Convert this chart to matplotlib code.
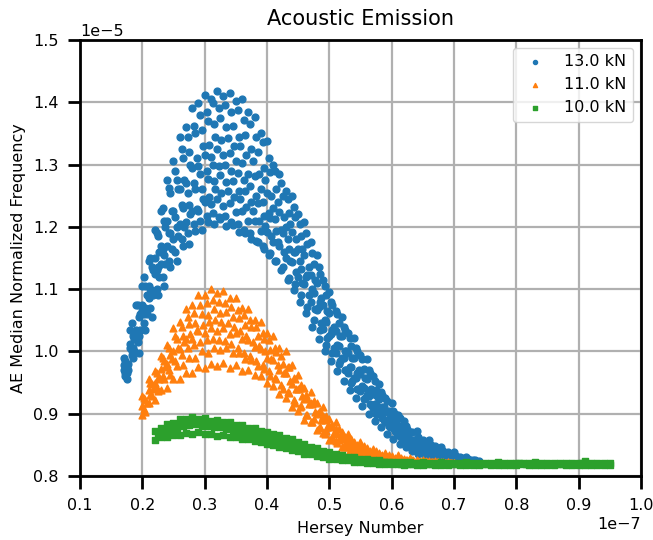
import numpy as np
from matplotlib import pyplot as plt

# x in units of 1e-7 (Hersey number), y in units of 1e-5 (normalized frequency)
blue_xa = [0.17, 0.18, 0.19, 0.20, 0.21, 0.22, 0.23, 0.24, 0.25, 0.26, 0.27, 0.28, 0.29, 0.30,
           0.31, 0.32, 0.33, 0.34, 0.35, 0.36, 0.37, 0.38, 0.39, 0.40, 0.41, 0.42, 0.43, 0.44,
           0.45, 0.46, 0.47, 0.48, 0.49, 0.50, 0.51, 0.52, 0.53, 0.54, 0.55, 0.56, 0.57, 0.58,
           0.59, 0.60, 0.61, 0.62, 0.63, 0.64, 0.65, 0.66, 0.67, 0.68, 0.69, 0.70, 0.71, 0.72,
           0.73, 0.74]
blue_xb = [0.175, 0.185, 0.195, 0.205, 0.215, 0.225, 0.235, 0.245, 0.255, 0.265, 0.275, 0.285,
           0.295, 0.305, 0.315, 0.325, 0.335, 0.345, 0.355, 0.365, 0.375, 0.385, 0.395, 0.405,
           0.415, 0.425, 0.435, 0.445, 0.455, 0.465, 0.475, 0.485, 0.495, 0.505, 0.515, 0.525,
           0.535, 0.545, 0.555, 0.565, 0.575, 0.585, 0.595, 0.605, 0.615, 0.625, 0.635, 0.645,
           0.655, 0.665, 0.675, 0.685, 0.695, 0.705, 0.715, 0.725, 0.735]
blue_xc = [0.173, 0.183, 0.193, 0.203, 0.213, 0.223, 0.233, 0.243, 0.253, 0.263, 0.273, 0.283,
           0.293, 0.303, 0.313, 0.323, 0.333, 0.343, 0.353, 0.363, 0.373, 0.383, 0.393, 0.403,
           0.413, 0.423, 0.433, 0.443, 0.453, 0.463, 0.473, 0.483, 0.493, 0.503, 0.513, 0.523,
           0.533, 0.543, 0.553, 0.563, 0.573, 0.583, 0.593, 0.603, 0.613, 0.623, 0.633, 0.643,
           0.653, 0.663, 0.673, 0.683, 0.693, 0.703, 0.713, 0.723, 0.733]
blue_xd = [0.177, 0.187, 0.197, 0.207, 0.217, 0.227, 0.237, 0.247, 0.257, 0.267, 0.277, 0.287,
           0.297, 0.307, 0.317, 0.327, 0.337, 0.347, 0.357, 0.367, 0.377, 0.387, 0.397, 0.407,
           0.417, 0.427, 0.437, 0.447, 0.457, 0.467, 0.477, 0.487, 0.497, 0.507, 0.517, 0.527,
           0.537, 0.547, 0.557, 0.567, 0.577, 0.587, 0.597, 0.607, 0.617, 0.627, 0.637, 0.647,
           0.657, 0.667, 0.677, 0.687, 0.697, 0.707, 0.717, 0.727, 0.737]

# 13 kN sweeps, outermost loop first
blue_s1 = [0.99, 1.035, 1.075, 1.105, 1.145, 1.195, 1.225, 1.275, 1.305, 1.345, 1.36, 1.39, 1.398,
           1.412, 1.405, 1.418, 1.41, 1.415, 1.402, 1.405, 1.385, 1.376, 1.35, 1.338, 1.30, 1.285,
           1.258, 1.25, 1.22, 1.208, 1.175, 1.155, 1.115, 1.095, 1.065, 1.055, 1.03, 1.022, 0.995,
           0.988, 0.96, 0.948, 0.925, 0.918, 0.898, 0.888, 0.87, 0.872, 0.858, 0.858, 0.848, 0.846,
           0.838, 0.838, 0.831, 0.83, 0.826, 0.824]
blue_s7 = [0.985, 1.045, 1.075, 1.12, 1.15, 1.19, 1.23, 1.262, 1.29, 1.325, 1.345, 1.362, 1.38,
           1.385, 1.398, 1.39, 1.396, 1.385, 1.388, 1.372, 1.365, 1.345, 1.336, 1.31, 1.29, 1.27,
           1.245, 1.232, 1.205, 1.19, 1.158, 1.135, 1.105, 1.08, 1.06, 1.04, 1.022, 1.005, 0.988,
           0.97, 0.952, 0.935, 0.92, 0.905, 0.893, 0.88, 0.87, 0.862, 0.855, 0.85, 0.843, 0.84,
           0.835, 0.832, 0.829, 0.827, 0.825]
blue_s2 = [0.975, 1.025, 1.055, 1.105, 1.135, 1.185, 1.21, 1.255, 1.275, 1.31, 1.32, 1.35, 1.355,
           1.37, 1.365, 1.375, 1.36, 1.362, 1.345, 1.347, 1.325, 1.32, 1.295, 1.288, 1.26, 1.25,
           1.222, 1.215, 1.185, 1.172, 1.14, 1.125, 1.09, 1.075, 1.045, 1.035, 1.008, 1.0, 0.972,
           0.965, 0.938, 0.93, 0.905, 0.9, 0.88, 0.875, 0.858, 0.857, 0.844, 0.843, 0.835, 0.836,
           0.829, 0.829, 0.825, 0.826, 0.823]
blue_s8 = [0.98, 1.02, 1.06, 1.09, 1.13, 1.16, 1.2, 1.225, 1.26, 1.275, 1.3, 1.31, 1.33, 1.332,
           1.345, 1.34, 1.343, 1.33, 1.33, 1.315, 1.305, 1.285, 1.275, 1.25, 1.24, 1.215, 1.205,
           1.18, 1.165, 1.135, 1.115, 1.085, 1.065, 1.04, 1.025, 1.0, 0.99, 0.97, 0.958, 0.94,
           0.928, 0.91, 0.9, 0.885, 0.876, 0.864, 0.858, 0.849, 0.845, 0.838, 0.836, 0.831, 0.83,
           0.826, 0.826, 0.824, 0.823]
blue_s3 = [0.97, 1.005, 1.035, 1.075, 1.105, 1.15, 1.17, 1.21, 1.225, 1.26, 1.27, 1.295, 1.298,
           1.315, 1.312, 1.325, 1.315, 1.318, 1.305, 1.303, 1.285, 1.282, 1.26, 1.254, 1.23, 1.224,
           1.2, 1.192, 1.165, 1.155, 1.122, 1.11, 1.075, 1.062, 1.032, 1.024, 0.998, 0.99, 0.963,
           0.956, 0.932, 0.924, 0.902, 0.897, 0.878, 0.873, 0.858, 0.856, 0.845, 0.844, 0.836,
           0.836, 0.83, 0.83, 0.826, 0.826, 0.823, 0.823]
blue_s9 = [0.96, 1.0, 1.03, 1.06, 1.1, 1.13, 1.165, 1.19, 1.215, 1.235, 1.255, 1.27, 1.285, 1.29,
           1.3, 1.297, 1.3, 1.29, 1.287, 1.275, 1.265, 1.25, 1.24, 1.222, 1.212, 1.195, 1.18, 1.16,
           1.145, 1.12, 1.1, 1.072, 1.05, 1.028, 1.01, 0.99, 0.975, 0.958, 0.944, 0.928, 0.915,
           0.9, 0.89, 0.877, 0.868, 0.858, 0.852, 0.845, 0.84, 0.835, 0.832, 0.829, 0.827, 0.825,
           0.824, 0.823, 0.822]
blue_s4 = [0.965, 1.005, 1.025, 1.07, 1.095, 1.135, 1.155, 1.19, 1.2, 1.23, 1.235, 1.26, 1.26,
           1.276, 1.273, 1.283, 1.272, 1.274, 1.258, 1.258, 1.24, 1.238, 1.218, 1.214, 1.194, 1.19,
           1.165, 1.16, 1.133, 1.122, 1.093, 1.08, 1.048, 1.035, 1.008, 1.0, 0.975, 0.965, 0.942,
           0.936, 0.915, 0.91, 0.89, 0.886, 0.87, 0.866, 0.853, 0.851, 0.841, 0.84, 0.832, 0.832,
           0.827, 0.827, 0.824, 0.824, 0.822]
blue_s10 = [0.97, 1.0, 1.035, 1.06, 1.09, 1.12, 1.14, 1.165, 1.185, 1.2, 1.22, 1.228, 1.245, 1.248,
            1.26, 1.255, 1.258, 1.248, 1.245, 1.232, 1.225, 1.21, 1.202, 1.185, 1.175, 1.16, 1.145,
            1.128, 1.11, 1.09, 1.068, 1.045, 1.022, 1.005, 0.985, 0.97, 0.953, 0.94, 0.925, 0.914,
            0.9, 0.89, 0.878, 0.87, 0.86, 0.853, 0.847, 0.842, 0.837, 0.833, 0.83, 0.828, 0.826,
            0.824, 0.823, 0.822, 0.822]
blue_s5 = [0.978, 1.012, 1.03, 1.065, 1.085, 1.125, 1.14, 1.17, 1.18, 1.205, 1.208, 1.226, 1.226,
           1.24, 1.236, 1.245, 1.234, 1.238, 1.224, 1.225, 1.21, 1.21, 1.193, 1.192, 1.176, 1.17,
           1.15, 1.143, 1.12, 1.108, 1.08, 1.066, 1.036, 1.024, 0.998, 0.99, 0.966, 0.958, 0.936,
           0.93, 0.909, 0.904, 0.886, 0.882, 0.866, 0.863, 0.851, 0.85, 0.84, 0.839, 0.832, 0.832,
           0.827, 0.827, 0.824, 0.824, 0.822, 0.822]
blue_s11 = [0.965, 0.995, 1.015, 1.045, 1.07, 1.1, 1.12, 1.145, 1.16, 1.18, 1.19, 1.205, 1.21,
            1.218, 1.222, 1.215, 1.218, 1.208, 1.205, 1.195, 1.19, 1.178, 1.17, 1.155, 1.145, 1.13,
            1.115, 1.098, 1.08, 1.062, 1.04, 1.02, 1.0, 0.985, 0.968, 0.952, 0.938, 0.925, 0.912,
            0.9, 0.888, 0.878, 0.868, 0.86, 0.852, 0.846, 0.84, 0.836, 0.832, 0.829, 0.827, 0.825,
            0.824, 0.823, 0.822, 0.822, 0.821]
blue_s6 = [0.955, 0.99, 0.998, 1.035, 1.055, 1.09, 1.105, 1.135, 1.145, 1.17, 1.172, 1.193, 1.195,
           1.208, 1.205, 1.212, 1.202, 1.203, 1.192, 1.19, 1.18, 1.176, 1.165, 1.158, 1.145, 1.136,
           1.118, 1.108, 1.09, 1.072, 1.05, 1.034, 1.01, 0.998, 0.98, 0.97, 0.95, 0.94, 0.924,
           0.915, 0.9, 0.893, 0.88, 0.873, 0.862, 0.857, 0.848, 0.845, 0.838, 0.836, 0.83, 0.83,
           0.826, 0.825, 0.823, 0.823, 0.822]

orange_xa = [0.20, 0.21, 0.22, 0.23, 0.24, 0.25, 0.26, 0.27, 0.28, 0.29, 0.30, 0.31, 0.32, 0.33,
             0.34, 0.35, 0.36, 0.37, 0.38, 0.39, 0.40, 0.41, 0.42, 0.43, 0.44, 0.45, 0.46, 0.47,
             0.48, 0.49, 0.50, 0.51, 0.52, 0.53, 0.54, 0.55, 0.56, 0.57, 0.58, 0.59, 0.60, 0.61,
             0.62, 0.63, 0.64, 0.65, 0.66, 0.67, 0.68, 0.69, 0.70]
orange_xb = [0.205, 0.215, 0.225, 0.235, 0.245, 0.255, 0.265, 0.275, 0.285, 0.295, 0.305, 0.315,
             0.325, 0.335, 0.345, 0.355, 0.365, 0.375, 0.385, 0.395, 0.405, 0.415, 0.425, 0.435,
             0.445, 0.455, 0.465, 0.475, 0.485, 0.495, 0.505, 0.515, 0.525, 0.535, 0.545, 0.555,
             0.565, 0.575, 0.585, 0.595, 0.605, 0.615, 0.625, 0.635, 0.645, 0.655, 0.665, 0.675,
             0.685, 0.695]
orange_xc = [0.203, 0.213, 0.223, 0.233, 0.243, 0.253, 0.263, 0.273, 0.283, 0.293, 0.303, 0.313,
             0.323, 0.333, 0.343, 0.353, 0.363, 0.373, 0.383, 0.393, 0.403, 0.413, 0.423, 0.433,
             0.443, 0.453, 0.463, 0.473, 0.483, 0.493, 0.503, 0.513, 0.523, 0.533, 0.543, 0.553,
             0.563, 0.573, 0.583, 0.593, 0.603, 0.613, 0.623, 0.633, 0.643, 0.653, 0.663, 0.673,
             0.683, 0.693]
orange_xd = [0.207, 0.217, 0.227, 0.237, 0.247, 0.257, 0.267, 0.277, 0.287, 0.297, 0.307, 0.317,
             0.327, 0.337, 0.347, 0.357, 0.367, 0.377, 0.387, 0.397, 0.407, 0.417, 0.427, 0.437,
             0.447, 0.457, 0.467, 0.477, 0.487, 0.497, 0.507, 0.517, 0.527, 0.537, 0.547, 0.557,
             0.567, 0.577, 0.587, 0.597, 0.607, 0.617, 0.627, 0.637, 0.647, 0.657, 0.667, 0.677,
             0.687, 0.697]

# 11 kN sweeps
orange_s1 = [0.928, 0.955, 0.968, 0.993, 1.01, 1.038, 1.048, 1.068, 1.074, 1.09, 1.09, 1.10, 1.094,
             1.097, 1.086, 1.085, 1.07, 1.068, 1.05, 1.047, 1.03, 1.025, 1.006, 1.0, 0.978, 0.962,
             0.942, 0.935, 0.917, 0.91, 0.892, 0.887, 0.871, 0.867, 0.855, 0.854, 0.845, 0.844,
             0.837, 0.837, 0.832, 0.833, 0.828, 0.829, 0.826, 0.826, 0.824, 0.824, 0.822, 0.823, 0.821]
orange_s6 = [0.925, 0.95, 0.965, 0.99, 1.005, 1.025, 1.04, 1.055, 1.062, 1.075, 1.078, 1.083, 1.08,
             1.078, 1.072, 1.066, 1.058, 1.05, 1.04, 1.03, 1.018, 1.005, 0.992, 0.975, 0.958, 0.942,
             0.93, 0.915, 0.902, 0.89, 0.879, 0.868, 0.86, 0.852, 0.846, 0.841, 0.838, 0.835, 0.832,
             0.83, 0.828, 0.827, 0.826, 0.825, 0.824, 0.823, 0.823, 0.822, 0.822, 0.821]
orange_s2 = [0.922, 0.948, 0.958, 0.984, 0.994, 1.02, 1.024, 1.044, 1.046, 1.06, 1.058, 1.068, 1.062,
             1.064, 1.055, 1.054, 1.042, 1.04, 1.024, 1.02, 1.003, 0.999, 0.98, 0.975, 0.955, 0.946,
             0.926, 0.92, 0.904, 0.897, 0.882, 0.876, 0.862, 0.859, 0.849, 0.848, 0.84, 0.84, 0.834,
             0.833, 0.829, 0.829, 0.826, 0.826, 0.824, 0.824, 0.822, 0.822, 0.821, 0.821]
orange_s7 = [0.918, 0.94, 0.955, 0.975, 0.988, 1.005, 1.015, 1.028, 1.035, 1.042, 1.047, 1.05, 1.048,
             1.045, 1.04, 1.032, 1.025, 1.015, 1.008, 1.0, 0.988, 0.978, 0.965, 0.952, 0.94, 0.928,
             0.915, 0.902, 0.89, 0.879, 0.869, 0.861, 0.854, 0.848, 0.843, 0.839, 0.835, 0.832, 0.83,
             0.828, 0.826, 0.825, 0.824, 0.823, 0.823, 0.822, 0.822, 0.821, 0.821, 0.821]
orange_s3 = [0.912, 0.938, 0.95, 0.972, 0.98, 1.0, 1.004, 1.02, 1.02, 1.032, 1.03, 1.038, 1.033,
             1.037, 1.028, 1.03, 1.02, 1.019, 1.007, 1.004, 0.99, 0.986, 0.97, 0.966, 0.948, 0.94,
             0.924, 0.917, 0.9, 0.896, 0.88, 0.876, 0.862, 0.86, 0.85, 0.849, 0.84, 0.84, 0.834,
             0.833, 0.829, 0.829, 0.826, 0.826, 0.824, 0.824, 0.822, 0.822, 0.821, 0.822, 0.821]
orange_s8 = [0.908, 0.93, 0.942, 0.96, 0.97, 0.985, 0.994, 1.005, 1.01, 1.015, 1.018, 1.02, 1.019,
             1.016, 1.012, 1.006, 0.998, 0.992, 0.985, 0.978, 0.968, 0.958, 0.946, 0.935, 0.922,
             0.91, 0.898, 0.887, 0.877, 0.868, 0.86, 0.853, 0.847, 0.842, 0.838, 0.835, 0.832, 0.83,
             0.828, 0.826, 0.825, 0.824, 0.823, 0.823, 0.822, 0.822, 0.821, 0.821, 0.821, 0.821]
orange_s4 = [0.903, 0.928, 0.936, 0.956, 0.962, 0.976, 0.978, 0.99, 0.99, 1.0, 0.998, 1.006, 1.003,
             1.006, 0.998, 0.998, 0.988, 0.986, 0.976, 0.972, 0.96, 0.955, 0.94, 0.934, 0.918, 0.912,
             0.898, 0.892, 0.879, 0.873, 0.862, 0.858, 0.849, 0.847, 0.84, 0.839, 0.834, 0.833,
             0.829, 0.829, 0.826, 0.826, 0.824, 0.824, 0.822, 0.823, 0.822, 0.822, 0.821, 0.821]
orange_s5 = [0.898, 0.918, 0.922, 0.938, 0.942, 0.955, 0.955, 0.966, 0.965, 0.975, 0.973, 0.98, 0.976,
             0.982, 0.974, 0.978, 0.968, 0.97, 0.962, 0.96, 0.95, 0.944, 0.932, 0.925, 0.91, 0.905,
             0.89, 0.886, 0.874, 0.869, 0.858, 0.856, 0.847, 0.846, 0.839, 0.838, 0.833, 0.832,
             0.829, 0.829, 0.826, 0.826, 0.824, 0.824, 0.823, 0.822, 0.822, 0.821, 0.821, 0.821, 0.821]

green_xa = [0.22, 0.23, 0.24, 0.25, 0.26, 0.27, 0.28, 0.29, 0.30, 0.31, 0.32, 0.33, 0.34, 0.35,
            0.36, 0.37, 0.38, 0.39, 0.40, 0.41, 0.42, 0.43, 0.44, 0.45, 0.46, 0.47, 0.48, 0.49,
            0.50, 0.51, 0.52, 0.53, 0.54, 0.55, 0.56, 0.57, 0.58, 0.59, 0.60, 0.61, 0.62, 0.63,
            0.64, 0.65, 0.66, 0.67, 0.68, 0.69, 0.70, 0.71, 0.72, 0.73, 0.74, 0.75, 0.76, 0.77,
            0.78, 0.79, 0.80, 0.81, 0.82, 0.83, 0.84, 0.85, 0.86, 0.87, 0.88, 0.89, 0.90, 0.91,
            0.92, 0.93, 0.94, 0.95]
green_xb = [0.225, 0.235, 0.245, 0.255, 0.265, 0.275, 0.285, 0.295, 0.305, 0.315, 0.325, 0.335,
            0.345, 0.355, 0.365, 0.375, 0.385, 0.395, 0.405, 0.415, 0.425, 0.435, 0.445, 0.455,
            0.465, 0.475, 0.485, 0.495, 0.505, 0.515, 0.525, 0.535, 0.545, 0.555, 0.565, 0.575,
            0.585, 0.595, 0.605, 0.615, 0.625, 0.635, 0.645, 0.655, 0.665, 0.675, 0.685, 0.695,
            0.705, 0.715, 0.725, 0.735, 0.745, 0.755, 0.765, 0.775, 0.785, 0.795, 0.805, 0.815,
            0.825, 0.835, 0.845, 0.855, 0.865, 0.875, 0.885, 0.895, 0.905, 0.915, 0.925, 0.935,
            0.945]
green_xc = [0.228, 0.238, 0.248, 0.258, 0.268, 0.278, 0.288, 0.298, 0.308, 0.318, 0.328, 0.338,
            0.348, 0.358, 0.368, 0.378, 0.388, 0.398, 0.408, 0.418, 0.428, 0.438, 0.448, 0.458,
            0.468, 0.478, 0.488, 0.498, 0.508, 0.518, 0.528, 0.538, 0.548, 0.558, 0.568, 0.578,
            0.588, 0.598]

# 10 kN sweeps
green_s1 = [0.872, 0.877, 0.883, 0.885, 0.891, 0.892, 0.895, 0.892, 0.893, 0.889, 0.89, 0.886, 0.886,
            0.882, 0.882, 0.877, 0.877, 0.872, 0.871, 0.867, 0.866, 0.861, 0.859, 0.854, 0.852,
            0.846, 0.845, 0.84, 0.839, 0.835, 0.834, 0.831, 0.83, 0.828, 0.827, 0.825, 0.825,
            0.823, 0.823, 0.822, 0.822, 0.822, 0.821, 0.822, 0.821, 0.821, 0.822, 0.821, 0.821,
            0.821, 0.822, 0.821, 0.821, 0.821, 0.821, 0.822, 0.821, 0.821, 0.821, 0.821, 0.821,
            0.822, 0.821, 0.821, 0.821, 0.821, 0.821, 0.821, 0.821, 0.824, 0.821, 0.821, 0.821, 0.821]
green_s4 = [0.868, 0.876, 0.88, 0.884, 0.887, 0.889, 0.888, 0.887, 0.885, 0.884, 0.882, 0.88, 0.878,
            0.876, 0.873, 0.871, 0.868, 0.865, 0.862, 0.86, 0.856, 0.853, 0.85, 0.846, 0.843, 0.84,
            0.837, 0.834, 0.832, 0.83, 0.828, 0.826, 0.825, 0.824, 0.823, 0.822, 0.822, 0.821]
green_s2 = [0.864, 0.87, 0.874, 0.876, 0.881, 0.882, 0.884, 0.881, 0.881, 0.878, 0.878, 0.875, 0.874,
            0.871, 0.87, 0.866, 0.865, 0.861, 0.86, 0.856, 0.854, 0.85, 0.848, 0.844, 0.842, 0.838,
            0.837, 0.834, 0.833, 0.83, 0.829, 0.827, 0.826, 0.825, 0.824, 0.823, 0.822, 0.822,
            0.821, 0.82, 0.82, 0.82, 0.821, 0.82, 0.82, 0.819, 0.82, 0.82, 0.82, 0.821, 0.82, 0.82,
            0.82, 0.819, 0.82, 0.82, 0.82, 0.82, 0.821, 0.82, 0.82, 0.82, 0.819, 0.82, 0.82, 0.82,
            0.82, 0.82, 0.821, 0.82, 0.82, 0.82, 0.82]
green_s3 = [0.858, 0.862, 0.862, 0.866, 0.866, 0.869, 0.868, 0.87, 0.867, 0.868, 0.865, 0.866, 0.863,
            0.863, 0.86, 0.859, 0.856, 0.855, 0.851, 0.85, 0.846, 0.845, 0.841, 0.84, 0.836, 0.835,
            0.832, 0.831, 0.828, 0.827, 0.825, 0.825, 0.823, 0.823, 0.821, 0.821, 0.82, 0.82, 0.819,
            0.819, 0.818, 0.819, 0.818, 0.818, 0.819, 0.818, 0.818, 0.818, 0.819, 0.818, 0.818,
            0.818, 0.818, 0.819, 0.818, 0.818, 0.818, 0.818, 0.818, 0.819, 0.818, 0.818, 0.818,
            0.818, 0.818, 0.819, 0.818, 0.818, 0.818, 0.818, 0.818, 0.818, 0.818, 0.818]

labels = ['13.0 kN', '11.0 kN', '10.0 kN']

plt.rcParams['font.size'] = 11.5
fig = plt.figure(figsize=(6.53, 5.4), dpi=100)
ax = fig.add_axes([0.1225, 0.1185, 0.859, 0.8075])

bx = np.concatenate([blue_xa, blue_xc, blue_xb, blue_xd, blue_xa, blue_xc, blue_xb, blue_xd,
                     blue_xa, blue_xc, blue_xb])
by = np.concatenate([blue_s1, blue_s7, blue_s2, blue_s8, blue_s3, blue_s9, blue_s4, blue_s10,
                     blue_s5, blue_s11, blue_s6])
ox = np.concatenate([orange_xa, orange_xc, orange_xb, orange_xd, orange_xa, orange_xc,
                     orange_xb, orange_xa])
oy = np.concatenate([orange_s1, orange_s6, orange_s2, orange_s7, orange_s3, orange_s8,
                     orange_s4, orange_s5])
gx = np.concatenate([green_xa, green_xc, green_xb, green_xa])
gy = np.concatenate([green_s1, green_s4, green_s2, green_s3])

ax.scatter(bx * 1e-7, by * 1e-5, s=24, marker='o', color='#1f77b4', label=labels[0], zorder=3)
ax.scatter(ox * 1e-7, oy * 1e-5, s=24, marker='^', color='#ff7f0e', label=labels[1], zorder=3)
ax.scatter(gx * 1e-7, gy * 1e-5, s=18, marker='s', color='#2ca02c', label=labels[2], zorder=3)

ax.set_xlim(0.1e-7, 1.0e-7)
ax.set_ylim(0.8e-5, 1.5e-5)
ax.set_xticks(np.linspace(0.1e-7, 1.0e-7, 10))
ax.set_yticks(np.linspace(0.8e-5, 1.5e-5, 8))
ax.grid(True, color='#b0b0b0', linewidth=1.6)
ax.set_axisbelow(True)
for sp in ax.spines.values():
    sp.set_linewidth(2)
ax.tick_params(length=9, width=2, pad=6.5, labelsize=11.5)
ax.xaxis.get_offset_text().set_fontsize(11.5)
ax.yaxis.get_offset_text().set_fontsize(11.5)

ax.set_title('Acoustic Emission', fontsize=15, pad=11)
ax.set_xlabel('Hersey Number', fontsize=11.5, labelpad=6)
ax.set_ylabel('AE Median Normalized Frequency', fontsize=11.5, labelpad=5)
ax.legend(loc='upper right', fontsize=11.5, markerscale=0.6)

plt.savefig('out.png', dpi=100)
